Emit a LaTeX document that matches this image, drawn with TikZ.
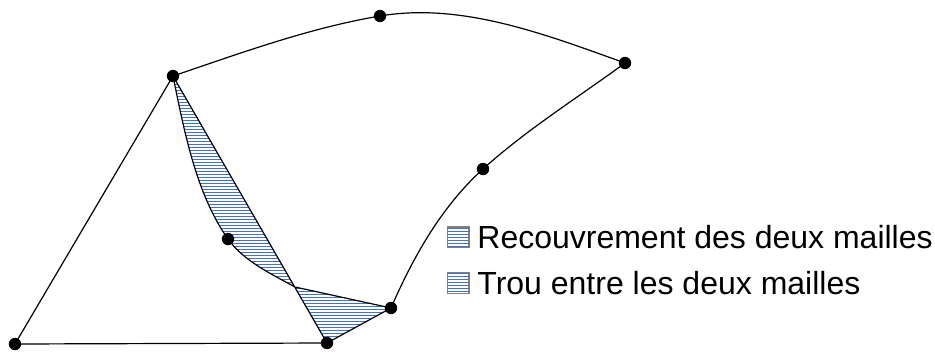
\documentclass[tikz,border=0pt]{standalone}
\usepackage{fontspec}
\setmainfont{Liberation Sans}
\usetikzlibrary{positioning}
\definecolor{hatch}{RGB}{68,114,190}

\tikzset{
  mesh/.style={line width=0.6pt, black, line join=round},
  hatchline/.style={hatch, line width=0.55pt},
  vertex/.style={circle, fill=black, inner sep=0pt, minimum size=6.2pt},
  legbox/.style={draw=gray, line width=0.5pt, inner sep=0pt, minimum width=10.5pt, minimum height=10pt},
  legtext/.style={font=\fontsize{16}{19}\selectfont, inner sep=0pt}
}

\begin{document}
\begin{tikzpicture}[x=0.5pt, y=-0.5pt]
\useasboundingbox (0,0) rectangle (935,354);
% mesh points
\coordinate (A) at (15,344);
\coordinate (B) at (173,76);
\coordinate (C) at (380,16);
\coordinate (D) at (625,63);
\coordinate (E) at (483,169);
\coordinate (F) at (391,308);
\coordinate (G) at (327,343);
\coordinate (H) at (228,239);
\coordinate (X) at (295,287);
% legend boxes
\node[legbox] (box1) at (458,237) {};
\node[legbox] (box2) at (458,283) {};
% hatching of overlap, hole and legend
\begin{scope}
  \clip (B) .. controls (184,130) and (196,194) .. (H)
    .. controls (243.5,261) and (271.5,274) .. (X) -- cycle
    (X) -- (F) -- (G) -- cycle
    (box1.south west) rectangle (box1.north east)
    (box2.south west) rectangle (box2.north east);
  \foreach \y in {0.5,3.5,...,353.5}
    \draw[hatchline] (0,\y) -- (935,\y);
\end{scope}
% overlap and hole outlines
\draw[mesh] (B) .. controls (184,130) and (196,194) .. (H)
  .. controls (243.5,261) and (271.5,274) .. (X) -- (F) -- (G) -- (B);
% outer edges
\draw[mesh] (G) -- (A) -- (B);
\draw[mesh] (B) .. controls (241,53) and (309,28) .. (C)
  .. controls (462,2) and (547,35) .. (D);
\draw[mesh] (D) .. controls (577.4,97.9) and (526.7,129.5) .. (E)
  .. controls (441.6,206.5) and (413.4,256.5) .. (F);
\foreach \p in {A,B,C,D,E,F,G,H}
  \node[vertex] (v\p) at (\p) {};
% legend
\draw[gray, line width=0.5pt] (box1.south west) rectangle (box1.north east)
  (box2.south west) rectangle (box2.north east);
\node[legtext, right=4pt of box1] (txt1) {Recouvrement des deux mailles};
\node[legtext, right=4pt of box2] (txt2) {Trou entre les deux mailles};
\end{tikzpicture}
\end{document}
